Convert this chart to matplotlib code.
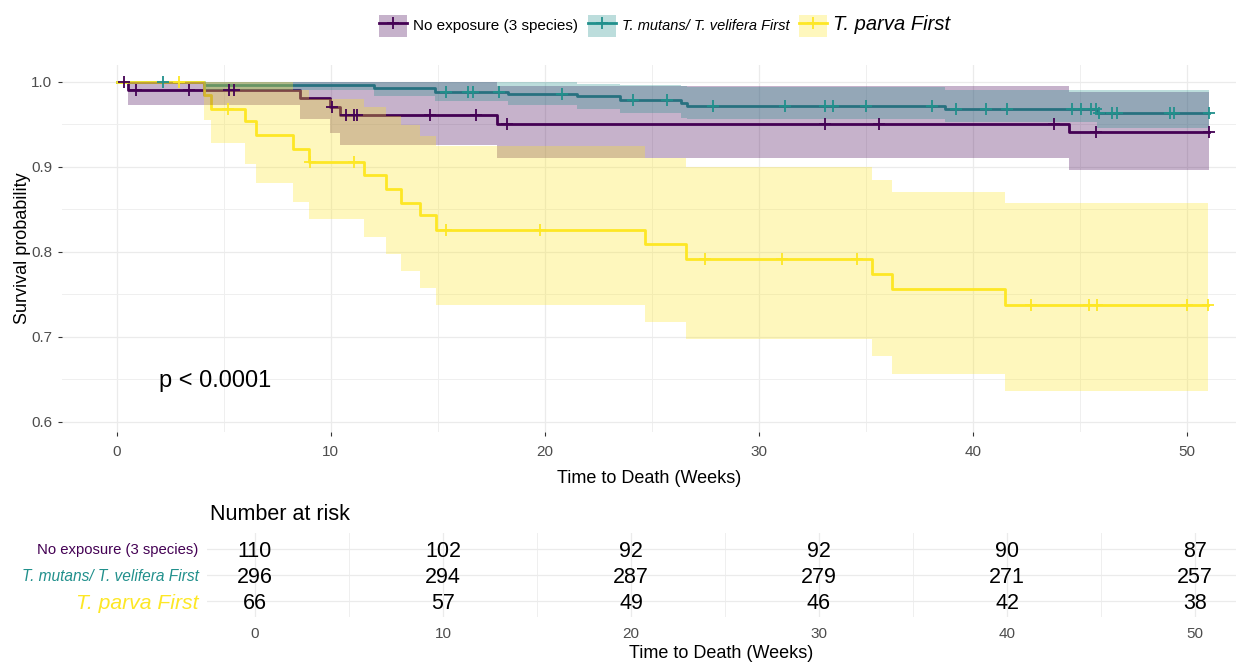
import numpy as np
import matplotlib
matplotlib.use("Agg")
import matplotlib.pyplot as plt
from matplotlib.patches import Patch
from matplotlib.lines import Line2D

plt.rcParams['font.family'] = ['Liberation Sans', 'DejaVu Sans']

# Kaplan-Meier estimates (event times, survival, 95% CI) per group
noexp_t = [0, 0.53, 8.55, 9.98, 10.42, 17.75, 44.5]
noexp_s = [1.0, 0.990, 0.981, 0.970, 0.961, 0.951, 0.941]
noexp_hi = [1.0, 1.0, 1.0, 1.0, 1.0, 0.995, 0.988]
noexp_lo = [1.0, 0.973, 0.956, 0.940, 0.926, 0.911, 0.896]
noexp_cens = [0.33, 0.89, 3.36, 5.23, 5.5, 10.08, 10.7, 11.1, 11.25, 14.65,
              16.8, 18.25, 33.1, 35.6, 43.8, 45.75, 51.05]

mut_t = [0, 4.1, 12.0, 14.85, 18.3, 21.5, 23.5, 26.35, 26.65, 38.7, 45.8]
mut_s = [1.0, 0.997, 0.993, 0.988, 0.986, 0.983, 0.979, 0.975, 0.972, 0.968, 0.964]
mut_hi = [1.0, 1.0, 1.0, 1.0, 1.0, 0.998, 0.997, 0.995, 0.994, 0.991, 0.990]
mut_lo = [1.0, 0.991, 0.983, 0.978, 0.973, 0.968, 0.963, 0.958, 0.956, 0.953, 0.946]
mut_cens = [2.15, 15.4, 16.4, 16.65, 17.85, 20.8, 24.1, 25.7, 27.85, 31.2,
            33.1, 33.45, 35.0, 38.1, 39.2, 40.6, 41.6, 44.65, 45.05, 45.5,
            45.75, 45.9, 46.5, 46.75, 49.2, 49.4, 51.05]

par_t = [0, 4.1, 4.4, 6.0, 6.5, 8.25, 9.0, 11.55, 12.6, 13.3, 14.15, 14.9,
         24.7, 26.6, 35.3, 36.2, 41.5]
par_s = [1.0, 0.985, 0.968, 0.954, 0.938, 0.921, 0.906, 0.891, 0.874, 0.858,
         0.843, 0.826, 0.809, 0.792, 0.774, 0.756, 0.738]
par_hi = [1.0, 1.0, 1.0, 1.0, 1.0, 0.99, 0.98, 0.97, 0.96, 0.949, 0.936,
          0.925, 0.911, 0.9, 0.885, 0.871, 0.858]
par_lo = [1.0, 0.955, 0.928, 0.904, 0.881, 0.859, 0.839, 0.818, 0.797,
          0.777, 0.758, 0.738, 0.717, 0.697, 0.677, 0.656, 0.636]
par_cens = [2.9, 5.2, 9.02, 11.1, 15.4, 19.8, 27.5, 31.1, 34.6, 42.7,
            45.4, 45.8, 50.0, 51.0]

group_names = ['No exposure (3 species)', 'T. mutans/ T. velifera First', 'T. parva First']
group_colors = ['#440154', '#21908C', '#FDE725']

# Number at risk table
risk_times = [0, 10, 20, 30, 40, 50]
risk_noexp = [110, 102, 92, 92, 90, 87]
risk_mut = [296, 294, 287, 279, 271, 257]
risk_par = [66, 57, 49, 46, 42, 38]

groups = [
    (noexp_t, noexp_s, noexp_hi, noexp_lo, noexp_cens),
    (mut_t, mut_s, mut_hi, mut_lo, mut_cens),
    (par_t, par_s, par_hi, par_lo, par_cens),
]

fig = plt.figure(figsize=(12.36, 6.62), dpi=100)

# ---- survival curves ----
ax = fig.add_axes([0.0502, 0.3474, 0.9498, 0.5544])
for (t, s, hi, lo, cens), col in zip(groups, group_colors):
    t = np.asarray(t)
    s = np.asarray(s)
    t_end = max(cens)
    tt = np.append(t, t_end)
    ax.step(tt, np.append(s, s[-1]), where='post', color=col, lw=2.0, zorder=2)
    ax.fill_between(tt, np.append(lo, lo[-1]), np.append(hi, hi[-1]), step='post',
                    color=col, alpha=0.3, lw=0, zorder=3)
    idx = np.searchsorted(t, cens, side='right') - 1
    ax.plot(cens, s[idx], ls='none', marker='+', ms=9, mew=1.3, color=col, zorder=4)

ax.set_xlim(-2.55, 52.29)
ax.set_ylim(0.588, 1.02)
ax.set_xticks(range(0, 51, 10))
ax.set_xticks(np.arange(5, 50, 10), minor=True)
ax.set_yticks([0.6, 0.7, 0.8, 0.9, 1.0])
ax.set_yticks([0.65, 0.75, 0.85, 0.95], minor=True)
ax.grid(which='major', color='#EBEBEB', lw=0.9, zorder=0)
ax.grid(which='minor', color='#EFEFEF', lw=0.7, zorder=0)
ax.set_axisbelow(True)
for sp in ax.spines.values():
    sp.set_visible(False)
ax.tick_params(which='major', length=3, width=0.8, color='#333333',
               labelcolor='#4D4D4D', labelsize=11, pad=4)
ax.tick_params(axis='x', which='major', pad=6)
ax.tick_params(which='minor', length=0)
ax.set_xlabel('Time to Death (Weeks)', fontsize=13, labelpad=8)
ax.set_ylabel('Survival probability', fontsize=13, labelpad=0)
ax.text(2.0, 0.648, 'p < 0.0001', fontsize=17, ha='left', va='center')

# ---- legend ----
handles = [(Patch(facecolor=c, alpha=0.3, edgecolor='none'),
            Line2D([], [], color=c, lw=2.0, marker='+', ms=9, mew=1.3))
           for c in group_colors]
leg = fig.legend(handles, group_names, loc='center', bbox_to_anchor=(0.538, 0.961),
                 ncol=3, frameon=False, handlelength=2.0, handleheight=2.0,
                 handletextpad=0.45, columnspacing=0.7, fontsize=10)
for txt, size, style in zip(leg.get_texts(), [11, 10.5, 14.5], ['normal', 'italic', 'italic']):
    txt.set_fontsize(size)
    txt.set_fontstyle(style)

# ---- number at risk ----
rax = fig.add_axes([0.1675, 0.068, 0.8325, 0.1269])
for row, counts in zip([3, 2, 1], [risk_noexp, risk_mut, risk_par]):
    for t, n in zip(risk_times, counts):
        rax.text(t, row, str(n), ha='center', va='center_baseline', fontsize=15.5)
rax.set_xlim(-2.55, 52.18)
rax.set_ylim(0.39, 3.61)
rax.set_xticks(risk_times)
rax.set_xticks(np.arange(5, 50, 10), minor=True)
rax.set_yticks([3, 2, 1])
rax.set_yticklabels(group_names)
for lbl, col, size, style in zip(rax.get_yticklabels(), group_colors,
                                 [10.7, 11.2, 15.2], ['normal', 'italic', 'italic']):
    lbl.set_color(col)
    lbl.set_fontsize(size)
    lbl.set_fontstyle(style)
rax.grid(which='major', color='#EBEBEB', lw=0.9)
rax.grid(which='minor', axis='x', color='#EFEFEF', lw=0.7)
rax.set_axisbelow(True)
for sp in rax.spines.values():
    sp.set_visible(False)
rax.tick_params(axis='x', which='major', length=0, labelcolor='#4D4D4D',
                labelsize=11, pad=7)
rax.tick_params(axis='y', length=0, pad=6)
rax.tick_params(which='minor', length=0)
rax.set_xlabel('Time to Death (Weeks)', fontsize=13, labelpad=3)
fig.text(210 / 1236, 1 - 514 / 662, 'Number at risk', fontsize=15.5, ha='left', va='center')

fig.savefig('out.png', dpi=100)
